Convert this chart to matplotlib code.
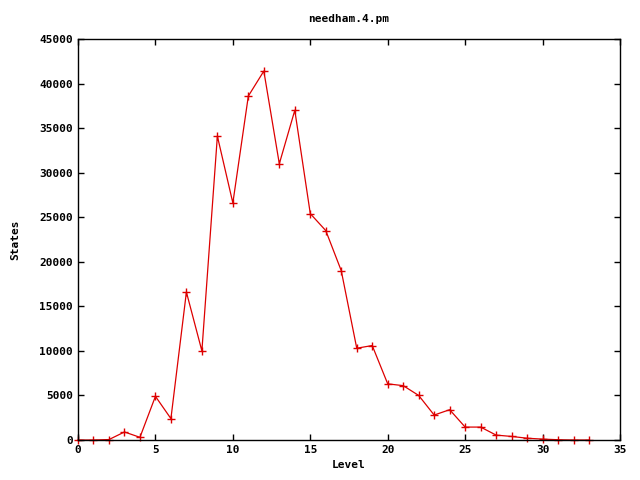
import matplotlib
matplotlib.use("Agg")
import matplotlib.pyplot as plt

levels = list(range(0, 34))
states = [
    0, 0, 50, 900, 300, 4900, 2400, 16600, 10000, 34100,
    26600, 38600, 41400, 31000, 37000, 25400, 23500, 19000, 10300, 10600,
    6300, 6100, 5000, 2800, 3400, 1450, 1450, 550, 400, 200,
    100, 30, 0, 0,
]

x_ticks = list(range(0, 40, 5))
y_ticks = list(range(0, 50000, 5000))

plt.rcParams["font.family"] = ["DejaVu Sans Mono"]
plt.rcParams["font.weight"] = "bold"

fig = plt.figure(figsize=(6.4, 4.8), dpi=100)
ax = fig.add_axes([78 / 640, 1 - 440 / 480, 542 / 640, 401 / 480])

ax.plot(levels, states, color="#dd0000", linewidth=0.9, marker="+",
        markersize=5.5, markeredgewidth=1.0, clip_on=False)

ax.set_xlim(0, 35)
ax.set_ylim(0, 45000)
ax.set_xticks(x_ticks)
ax.set_yticks(y_ticks)
ax.tick_params(direction="in", top=True, right=True, length=4, width=1,
               labelsize=8)
for spine in ax.spines.values():
    spine.set_linewidth(1.0)

ax.set_title("needham.4.pm", fontsize=8, fontweight="bold", pad=12)
ax.set_xlabel("Level", fontsize=8, fontweight="bold", labelpad=4)
ax.set_ylabel("States", fontsize=8, fontweight="bold", labelpad=14)

fig.savefig("out.png", dpi=100)
